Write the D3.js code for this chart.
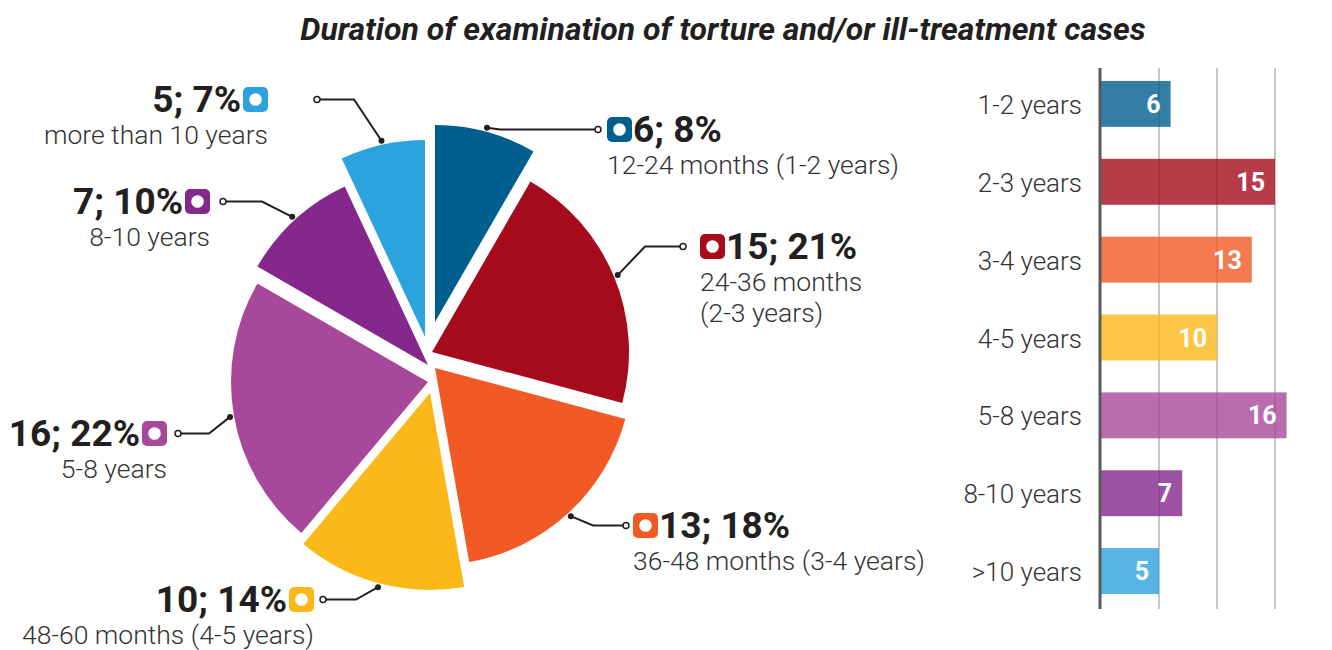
<!DOCTYPE html>
<html>
<head>
<meta charset="utf-8">
<script src="https://cdn.jsdelivr.net/npm/d3@7"></script>
<style>
  body { margin: 0; background: #fff; }
  svg { font-family: Roboto, "Noto Sans", sans-serif; }
</style>
</head>
<body>
<svg id="chart" width="1332" height="650"></svg>
<script>
const categories = ["1-2 years", "2-3 years", "3-4 years", "4-5 years", "5-8 years", "8-10 years", ">10 years"];
const cases = [6, 15, 13, 10, 16, 7, 5];
const descriptions = [
  ["12-24 months (1-2 years)"],
  ["24-36 months", "(2-3 years)"],
  ["36-48 months (3-4 years)"],
  ["48-60 months (4-5 years)"],
  ["5-8 years"],
  ["8-10 years"],
  ["more than 10 years"]
];
const xTicks = [0, 5, 10, 15, 20];

const pieColors = ["#005f8e", "#a50b1d", "#f15a24", "#fbb819", "#a8489b", "#84288b", "#2ca3dc"];
const ink = "#231f20";

const svg = d3.select("#chart");

svg.append("text")
  .attr("x", 723).attr("y", 40)
  .attr("text-anchor", "middle")
  .attr("font-size", 32).attr("font-weight", 700).attr("font-style", "italic")
  .attr("fill", ink)
  .text("Duration of examination of torture and/or ill-treatment cases");

// ---------- pie ----------
const cx = 430, cy = 357, R = 197;
// the slices in the original are pulled apart by hand, not evenly
const nudge = [[5, -35], [2, -5], [5, 11], [0, 36], [-2, 25], [-2, 8], [-5, -20]];

const total = d3.sum(cases);
const pie = d3.pie().sort(null).value(d => d)(cases);
const arc = d3.arc().innerRadius(0).outerRadius(R);

const gPie = svg.append("g");
gPie.selectAll("path")
  .data(pie)
  .join("path")
  .attr("transform", (d, i) => `translate(${cx + nudge[i][0]},${cy + nudge[i][1]})`)
  .attr("d", arc)
  .attr("fill", (d, i) => pieColors[i]);

// label layout: icon top-left, side, open circle x, elbow x
const labelPos = [
  { ix: 607, iy: 117, side: "r", ox: 598, ex: 500 },
  { ix: 700, iy: 234, side: "r", ox: 683, ex: 645 },
  { ix: 633, iy: 513, side: "r", ox: 626, ex: 593 },
  { ix: 289, iy: 587, side: "l", ox: 323, ex: 356 },
  { ix: 142, iy: 421, side: "l", ox: 178, ex: 209 },
  { ix: 185, iy: 189, side: "l", ox: 223, ex: 262 },
  { ix: 243, iy: 87, side: "l", ox: 317, ex: 354 }
];
const icon = 25;

pie.forEach((d, i) => {
  const a = (d.startAngle + d.endAngle) / 2;
  const px = cx + nudge[i][0] + (R + 4) * Math.sin(a);
  const py = cy + nudge[i][1] - (R + 4) * Math.cos(a);
  const L = labelPos[i];
  const oy = L.iy + icon / 2;

  svg.append("path")
    .attr("d", d3.line()([[px, py], [L.ex, oy], [L.ox, oy]]))
    .attr("fill", "none").attr("stroke", ink).attr("stroke-width", 2);
  svg.append("circle").attr("cx", px).attr("cy", py).attr("r", 3).attr("fill", ink);
  svg.append("circle").attr("cx", L.ox).attr("cy", oy).attr("r", 3)
    .attr("fill", "#fff").attr("stroke", ink).attr("stroke-width", 1.5);

  svg.append("rect")
    .attr("x", L.ix).attr("y", L.iy).attr("width", icon).attr("height", icon)
    .attr("rx", 5).attr("fill", pieColors[i]);
  svg.append("circle")
    .attr("cx", L.ix + icon / 2).attr("cy", L.iy + icon / 2).attr("r", 6.3)
    .attr("fill", "#fff");

  const right = L.side === "r";
  svg.append("text")
    .attr("x", right ? L.ix + icon + 1 : L.ix - 2)
    .attr("y", L.iy + icon)
    .attr("text-anchor", right ? "start" : "end")
    .attr("font-size", 37).attr("font-weight", 700).attr("fill", ink)
    .text(`${d.data}; ${Math.round(d.data / total * 100)}%`);

  const desc = svg.append("text")
    .attr("text-anchor", right ? "start" : "end")
    .attr("font-size", 26.5).attr("font-weight", 300).attr("fill", "#333");
  descriptions[i].forEach((line, k) => {
    desc.append("tspan")
      .attr("x", right ? L.ix : L.ix + icon)
      .attr("y", L.iy + icon + 31.5 + k * 31)
      .text(line);
  });
});

// ---------- bars ----------
const x = d3.scaleLinear().domain([0, 20]).range([1101, 1333]);
const y = d3.scaleBand().domain(categories).range([65, 610]).paddingInner(0.41).paddingOuter(0.205);

const gBar = svg.append("g");
gBar.selectAll("line.grid")
  .data(xTicks.slice(1))
  .join("line")
  .attr("class", "grid")
  .attr("x1", d => x(d)).attr("x2", d => x(d))
  .attr("y1", 68).attr("y2", 609)
  .attr("stroke", "#b5b5b5").attr("stroke-width", 1.5);

gBar.selectAll("rect")
  .data(cases)
  .join("rect")
  .attr("x", x(0))
  .attr("y", (d, i) => y(categories[i]))
  .attr("width", d => x(d) - x(0))
  .attr("height", y.bandwidth())
  .attr("fill", (d, i) => pieColors[i])
  .attr("fill-opacity", 0.8);

gBar.append("line")
  .attr("x1", x(0) - 1).attr("x2", x(0) - 1)
  .attr("y1", 68).attr("y2", 609)
  .attr("stroke", "#5a5a5a").attr("stroke-width", 3);

gBar.selectAll("text.cat")
  .data(categories)
  .join("text")
  .attr("class", "cat")
  .attr("x", 1082)
  .attr("y", d => y(d) + y.bandwidth() / 2 + 10)
  .attr("text-anchor", "end")
  .attr("font-size", 26).attr("font-weight", 300).attr("fill", "#333")
  .text(d => d);

gBar.selectAll("text.val")
  .data(cases)
  .join("text")
  .attr("class", "val")
  .attr("x", d => x(d) - 10)
  .attr("y", (d, i) => y(categories[i]) + y.bandwidth() / 2 + 9)
  .attr("text-anchor", "end")
  .attr("font-size", 25).attr("font-weight", 700).attr("fill", "#fff")
  .text(d => d);
</script>
</body>
</html>
